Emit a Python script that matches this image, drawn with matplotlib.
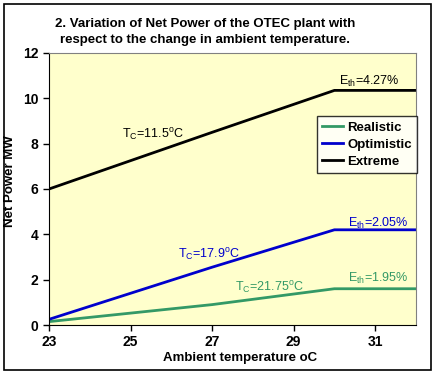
import matplotlib.pyplot as plt
from matplotlib.patches import Rectangle

# data
temp = [23, 27, 30, 32]
realistic = [0.15, 0.9, 1.6, 1.6]
optimistic = [0.25, 2.55, 4.2, 4.2]
extreme = [6.0, 8.5, 10.35, 10.35]

green = '#339966'
blue = '#0000CC'

plt.rcParams['font.family'] = ['Liberation Sans', 'DejaVu Sans']

fig = plt.figure(figsize=(4.36, 3.75), dpi=100)
fig.patches.append(Rectangle((0.009, 0.013), 0.98, 0.976, transform=fig.transFigure,
                             fill=False, edgecolor='black', linewidth=1.2))
ax = fig.add_axes([0.1124, 0.1333, 0.8416, 0.7254])
ax.set_facecolor('#FFFFCC')

ax.plot(temp, realistic, color=green, lw=2, label='Realistic')
ax.plot(temp, optimistic, color=blue, lw=2, label='Optimistic')
ax.plot(temp, extreme, color='black', lw=2, label='Extreme')

ax.set_xlim(23, 32)
ax.set_ylim(0, 12)
ax.set_xticks([23, 25, 27, 29, 31])
ax.set_yticks(range(0, 13, 2))
for s in ax.spines.values():
    s.set_color('#808080')
ax.spines['left'].set_color('black')
ax.spines['bottom'].set_color('black')
ax.tick_params(labelsize=10, length=4, width=1)
for lab in ax.get_xticklabels() + ax.get_yticklabels():
    lab.set_fontweight('bold')

ax.set_xlabel('Ambient temperature oC', fontsize=9.5, fontweight='bold')
ax.xaxis.set_label_coords(0.52, -0.1)
ax.set_ylabel('Net Power MW', fontsize=9.5, fontweight='bold')
ax.yaxis.set_label_coords(-0.09, 0.53)

fig.text(0.47, 0.952, '2. Variation of Net Power of the OTEC plant with\nrespect to the change in ambient temperature.',
         ha='center', va='top', fontsize=9.5, fontweight='bold', linespacing=1.4)

ax.text(25.54, 8.37, r'T$_\mathregular{C}$=11.5$^\mathregular{o}$C', color='black', fontsize=9, ha='center', va='center')
ax.text(26.93, 3.08, r'T$_\mathregular{C}$=17.9$^\mathregular{o}$C', color=blue, fontsize=9, ha='center', va='center')
ax.text(28.41, 1.63, r'T$_\mathregular{C}$=21.75$^\mathregular{o}$C', color=green, fontsize=9, ha='center', va='center')
ax.text(30.85, 10.75, r'E$_\mathregular{th}$=4.27%', color='black', fontsize=9, ha='center', va='center')
ax.text(31.07, 4.5, r'E$_\mathregular{th}$=2.05%', color=blue, fontsize=9, ha='center', va='center')
ax.text(31.07, 2.07, r'E$_\mathregular{th}$=1.95%', color=green, fontsize=9, ha='center', va='center')

leg = ax.legend(loc='upper right', bbox_to_anchor=(1.003, 0.767), fontsize=9.5, frameon=True,
                fancybox=False, edgecolor='black', handlelength=1.6, handletextpad=0.3,
                borderpad=0.4, labelspacing=0.35, borderaxespad=0)
leg.get_frame().set_facecolor('white')
leg.get_frame().set_linewidth(1)
for t in leg.get_texts():
    t.set_fontweight('bold')

fig.savefig('out.png', dpi=100)
